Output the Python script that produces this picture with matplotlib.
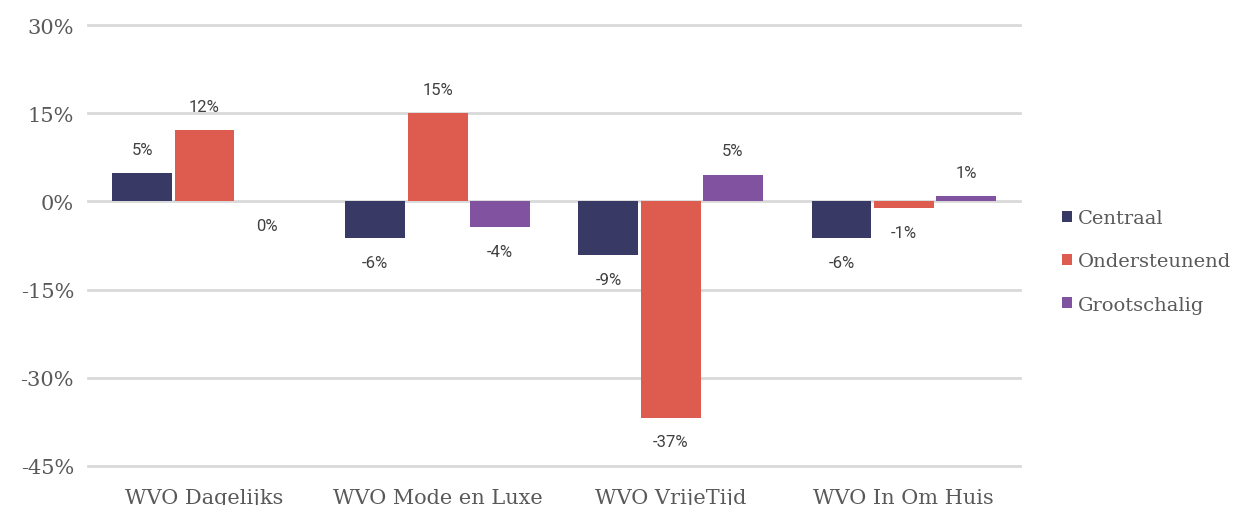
import numpy as np
import matplotlib
matplotlib.use("Agg")
import matplotlib.pyplot as plt

categories = ["WVO Dagelijks", "WVO Mode en Luxe", "WVO VrijeTijd", "WVO In Om Huis"]
series = ["Centraal", "Ondersteunend", "Grootschalig"]
centraal = [4.8, -6.3, -9.2, -6.3]
ondersteunend = [12.1, 15.0, -36.8, -1.2]
grootschalig = [0.0, -4.4, 4.5, 0.9]
labels = [["5%", "-6%", "-9%", "-6%"],
          ["12%", "15%", "-37%", "-1%"],
          ["0%", "-4%", "5%", "1%"]]
colors = ["#383A65", "#DE5B50", "#8152A0"]

serif = "DejaVu Serif"
sans = "Roboto"

fig = plt.figure(figsize=(12.43, 5.06), dpi=100)
ax = fig.add_axes([0.0708, 0.0771, 0.75, 0.8715])

x = np.arange(len(categories))
width = 0.257
values = [centraal, ondersteunend, grootschalig]
for i, (vals, name, col) in enumerate(zip(values, series, colors)):
    pos = x + (i - 1) * (width + 0.01)
    ax.bar(pos, vals, width, color=col, label=name, zorder=3)
    for px, v, lab in zip(pos, vals, labels[i]):
        off = 24 if v > 0 else -24
        ax.annotate(lab, (px, v), xytext=(0, off), textcoords="offset pixels",
                    ha="center", va="center", fontsize=12, family=sans,
                    color="#404040")

ax.set_ylim(-45, 30)
ax.set_xlim(-0.5, 3.5)
ax.set_yticks([-45, -30, -15, 0, 15, 30])
ax.set_yticklabels(["-45%", "-30%", "-15%", "0%", "15%", "30%"])
ax.set_xticks(x)
ax.set_xticklabels(categories)
ax.grid(axis="y", color="#D9D9D9", linewidth=2, zorder=0)
for gl in ax.get_ygridlines():
    gl.set_clip_on(False)
for s in ax.spines.values():
    s.set_visible(False)
ax.tick_params(length=0, labelsize=15, labelcolor="#595959", pad=10)
ax.tick_params(axis="x", pad=16)
for t in ax.get_xticklabels() + ax.get_yticklabels():
    t.set_family(serif)

leg = ax.legend(loc="center left", bbox_to_anchor=(1.026, 0.464), frameon=False,
                handlelength=0.5, handleheight=0.5, handletextpad=0.3,
                labelspacing=1.3, prop={"family": serif, "size": 14})
for t in leg.get_texts():
    t.set_color("#595959")

fig.savefig("out.png", dpi=100)
